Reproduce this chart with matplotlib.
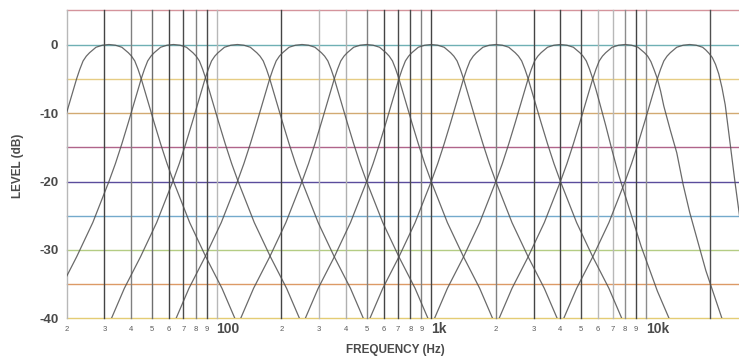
import numpy as np
import matplotlib
matplotlib.use('Agg')
from matplotlib import pyplot as plt

# octave band centres (Hz)
centers = [31.5, 63, 125, 250, 500, 1000, 2000, 4000, 8000, 16000]

# filter skirt: distance from centre (octaves) -> level (dB)
oct_offsets = [0, 0.1, 0.2, 0.25, 0.3, 0.35, 0.4, 0.45, 0.5, 0.55, 0.6,
               0.7, 0.8, 0.9, 1.0, 1.25, 1.5, 1.75, 1.95, 2.25]
std_db = [0, -0.1, -0.4, -0.8, -1.2, -1.7, -2.4, -3.6, -5, -6.6, -8.2,
          -11.4, -14.5, -17.4, -20, -26, -31, -35.6, -40, -45]
# the top bands fall off faster on their high side
right_db_4k = [0, -0.1, -0.4, -0.8, -1.2, -1.7, -2.4, -3.6, -5, -6.6, -8.3,
               -11.8, -15.5, -19, -22, -29.5, -36, -41.5, -45, -50]
right_db_8k = [0, -0.1, -0.4, -0.8, -1.2, -1.7, -2.5, -3.7, -5, -6.8, -9,
               -12.5, -15.8, -20.5, -24.5, -33, -40, -46, -50, -55]
right_db_16k = [0, -0.1, -0.4, -0.8, -1.3, -1.9, -2.9, -4.3, -6.3, -8.8, -12.5,
                -20, -27, -34, -41, -50, -55, -60, -62, -65]
right_skirts = {4000: right_db_4k, 8000: right_db_8k, 16000: right_db_16k}

# coloured level lines
levels = [5, 0, -5, -10, -15, -20, -25, -30, -35, -40]
level_colors = ['#d4949c', '#6fb0b4', '#e6cc84', '#d2aa72', '#b0648a',
                '#5a4c9c', '#74aacc', '#b4cc84', '#dc9a66', '#e4cc74']

# vertical frequency lines and their shade
grid_freqs = [20, 30, 40, 50, 60, 70, 80, 90, 100,
              200, 300, 400, 500, 600, 700, 800, 900, 1000,
              2000, 3000, 4000, 5000, 6000, 7000, 8000, 9000, 10000, 20000]
grid_shades = ['#b8b8b8', '#444444', '#808080', '#6e6e6e', '#444444', '#4a4a4a', '#808080', '#4a4a4a', '#b8b8b8',
               '#444444', '#b8b8b8', '#b0b0b0', '#808080', '#444444', '#4a4a4a', '#4a4a4a', '#808080', '#444444',
               '#808080', '#444444', '#444444', '#4a4a4a', '#b8b8b8', '#b8b8b8', '#8c8c8c', '#444444', '#8c8c8c', '#505050']

small_freqs = [20, 30, 40, 50, 60, 70, 80, 90,
               200, 300, 400, 500, 600, 700, 800, 900,
               2000, 3000, 4000, 5000, 6000, 7000, 8000, 9000]
small_labels = ['2', '3', '4', '5', '6', '7', '8', '9'] * 3
big_freqs = [100, 1000, 10000]
big_labels = ['100', '1k', '10k']

plt.rcParams['font.family'] = ['Liberation Sans', 'DejaVu Sans']
txt = '#4a4a4a'

fig = plt.figure(figsize=(7.39, 3.6), dpi=100)
ax = fig.add_axes([0.0901, 0.1153, 0.9099, 0.8562])
ax.set_xscale('log')
ax.set_xlim(20, 27160)
ax.set_ylim(-40, 5)
for s in ax.spines.values():
    s.set_visible(False)

for lv, c in zip(levels, level_colors):
    ax.axhline(lv, color=c, lw=1.0, clip_on=False, zorder=1)
for f, c in zip(grid_freqs, grid_shades):
    ax.plot([f, f], [-40, 5], color=c, lw=1.0, clip_on=False, zorder=2)

offs = np.array(oct_offsets)
for fc in centers:
    rdb = right_skirts.get(fc, std_db)
    fx = np.concatenate([fc * 2.0 ** (-offs[::-1]), fc * 2.0 ** offs[1:]])
    fy = np.concatenate([np.array(std_db)[::-1], np.array(rdb)[1:]])
    ax.plot(fx, fy, color='#505050', lw=0.9, alpha=0.85, zorder=3)

# ticks
ax.tick_params(length=0)
ax.set_yticks([0, -10, -20, -30, -40])
ax.set_yticklabels(['0', '-10', '-20', '-30', '-40'], fontsize=9.5,
                   fontweight='bold', color=txt)
ax.tick_params(axis='y', pad=6)
ax.set_xticks([])
ax.set_xticks([], minor=True)
for f, lab in zip(small_freqs, small_labels):
    ax.text(f, -41.1, lab, fontsize=5.5, color='#5a5a5a', ha='center', va='top')
for f, lab in zip(big_freqs, big_labels):
    ax.text(f, -40.5, lab, fontsize=10, fontweight='bold', color=txt,
            ha='left', va='top')

fig.text(0.535, 0.028, 'FREQUENCY (Hz)', fontsize=8.5, fontweight='bold',
         color=txt, ha='center', va='center')
fig.text(0.025, 0.54, 'LEVEL (dB)', fontsize=8.5, fontweight='bold',
         color=txt, ha='center', va='center', rotation=90)

fig.savefig('out.png', dpi=100)
